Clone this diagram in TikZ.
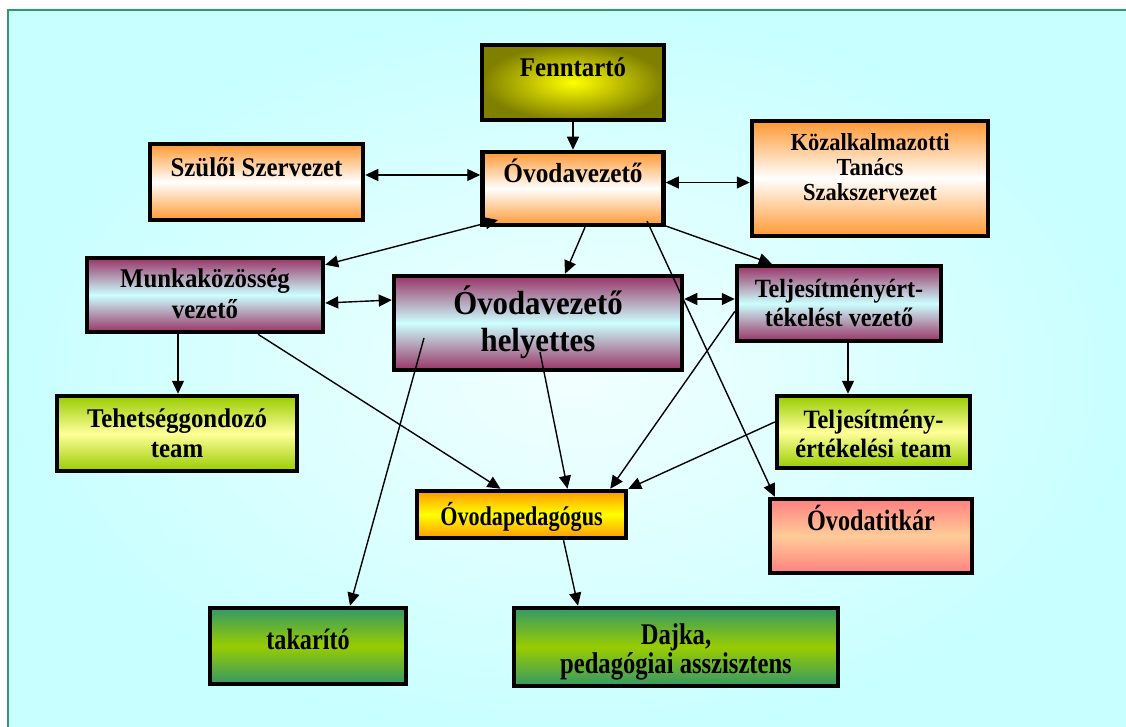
\documentclass[tikz,border=0pt]{standalone}
\usepackage{fontspec}
\setmainfont{Liberation Serif}
\newfontfamily\condA{Liberation Serif}[FakeStretch=0.92]
\newfontfamily\condB{Liberation Serif}[FakeStretch=0.82]
\usetikzlibrary{arrows.meta,calc}
\definecolor{frameG}{HTML}{339966}
\definecolor{bgIn}{HTML}{F2FFFF}
\definecolor{bgOut}{HTML}{C8FFFF}
\definecolor{orngC}{HTML}{FF9933}
\definecolor{maroC}{HTML}{993366}
\definecolor{cyanC}{HTML}{CCFFFF}
\definecolor{limeC}{HTML}{99CC00}
\definecolor{paleY}{HTML}{FFFF99}
\definecolor{ambC}{HTML}{FF9900}
\definecolor{salC}{HTML}{FF8080}
\definecolor{peachC}{HTML}{FFCC99}
\definecolor{grnC}{HTML}{339966}
\definecolor{oliveC}{HTML}{808000}
\newcommand\bxfontA[1]{\condA\fontsize{#1}{#1}\selectfont\bfseries}
\newcommand\bxfontB[1]{\condB\fontsize{#1}{#1}\selectfont\bfseries}
\tikzset{
  bx/.style={draw=black, line width=4.5pt, inner sep=0pt},
  orngbox/.style={bx, top color=orngC, bottom color=orngC, middle color=white},
  marobox/.style={bx, top color=maroC, bottom color=maroC, middle color=cyanC},
  limebox/.style={bx, top color=limeC, bottom color=limeC, middle color=paleY},
  ambbox/.style={bx, top color=ambC, bottom color=ambC, middle color=yellow},
  salbox/.style={bx, top color=salC, bottom color=salC, middle color=peachC},
  grnbox/.style={bx, top color=grnC, bottom color=grnC, middle color=limeC},
  olivebox/.style={bx, inner color=yellow, outer color=oliveC},
  txt/.style={anchor=base, inner sep=0pt, text=black},
  arr/.style={-{Triangle[length=13pt,width=12pt]}, line width=1.4pt},
  darr/.style={{Triangle[length=13pt,width=12pt]}-{Triangle[length=13pt,width=12pt]}, line width=1.4pt}
}
\begin{document}
\begin{tikzpicture}[x=1pt,y=-1pt]
\useasboundingbox (0,0) rectangle (1126,727);
\fill[white] (0,0) rectangle (1126,727);
\path[draw=frameG, line width=2.5pt, inner color=bgIn, outer color=bgOut] (8,10) rectangle (1140,740);

% boxes
\node[olivebox, minimum width=182pt, minimum height=75pt] (fenn) at (573,82.5) {};
\node[orngbox, minimum width=213pt, minimum height=76pt] (szulo) at (256.5,182) {};
\node[orngbox, minimum width=181pt, minimum height=73pt] (ovez) at (573,188.5) {};
\node[orngbox, minimum width=236pt, minimum height=115pt] (kozal) at (870,178.5) {};
\node[marobox, minimum width=236pt, minimum height=74pt] (munka) at (205,295) {};
\node[marobox, minimum width=288pt, minimum height=94pt] (helyt) at (538,323) {};
\node[marobox, minimum width=204pt, minimum height=75pt] (telv) at (839,303.5) {};
\node[limebox, minimum width=240pt, minimum height=75pt] (tehet) at (177,433.5) {};
\node[limebox, minimum width=193pt, minimum height=72pt] (telt) at (873.5,432) {};
\node[ambbox, minimum width=209pt, minimum height=47pt] (opeda) at (521.5,514.5) {};
\node[salbox, minimum width=202pt, minimum height=74pt] (titk) at (871,536) {};
\node[grnbox, minimum width=196pt, minimum height=76pt] (takar) at (308,646) {};
\node[grnbox, minimum width=324pt, minimum height=78pt] (dajka) at (676,647) {};

% inner start points
\coordinate (ovezIn) at (498,220);
\coordinate (ovezTi) at (647,221);
\coordinate (helytL) at (424,338);
\coordinate (helytM) at (540,352);

% connectors
\draw[arr] (fenn.south) -- (fenn.south |- ovez.north);
\path ($(szulo.east)+(0,-7)$) coordinate (a2);
\draw[darr] (a2) -- (a2 -| ovez.west);
\path ($(ovez.east)+(0,-6)$) coordinate (a3);
\draw[darr] (a3) -- (a3 -| kozal.west);
\draw[darr] ($(munka.north east)+(0,9)$) -- (ovezIn);
\draw[arr] ($(ovez.south)+(12,0)$) -- ($(helyt.north)+(27,0)$);
\draw[arr] ($(ovez.south east)+(-2,-2)$) -- ($(telv.north west)+(37,0)$);
\draw[arr] (ovezTi) -- ($(titk.north west)+(7,0)$);
\draw[darr] ($(munka.east)+(0,8)$) -- ($(helyt.west)+(0,-23)$);
\path ($(helyt.east)+(0,-24)$) coordinate (a9);
\draw[darr] (a9) -- (a9 -| telv.west);
\path ($(munka.south)+(-27,0)$) coordinate (a10);
\draw[arr] (a10) -- (a10 |- tehet.north);
\draw[arr] ($(munka.south)+(53,0)$) -- ($(opeda.north)+(-21,0)$);
\draw[arr] (helytL) -- ($(takar.north)+(42,0)$);
\draw[arr] (helytM) -- ($(opeda.north)+(46,0)$);
\draw[arr] ($(telv.west)+(0,8)$) -- ($(opeda.north east)+(-18,0)$);
\path ($(telv.south)+(9,0)$) coordinate (a15);
\draw[arr] (a15) -- (a15 |- telt.north);
\draw[arr] ($(telt.west)+(0,-10)$) -- (opeda.north east);
\draw[arr] ($(opeda.south)+(42,0)$) -- ($(dajka.north)+(-98,0)$);

% texts
\node[txt, font=\bxfontA{27}] (fennT) at (573,77) {Fenntartó};
\node[txt, font=\bxfontA{27}] (szuloT) at (256.5,177) {Szülői Szervezet};
\node[txt, font=\bxfontA{27.5}] (ovezT) at (573,183) {Óvodavezető};
\node[txt, font=\bxfontA{24.5}] (kozalT1) at (870,151) {Közalkalmazotti};
\node[txt, font=\bxfontA{24.5}] (kozalT2) at (870,176) {Tanács};
\node[txt, font=\bxfontA{24.5}] (kozalT3) at (870,201) {Szakszervezet};
\node[txt, font=\bxfontA{27}] (munkaT1) at (205,287) {Munkaközösség};
\node[txt, font=\bxfontA{27}] (munkaT2) at (205,318) {vezető};
\node[txt, font=\bxfontA{33.5}] (helytT1) at (538,314) {Óvodavezető};
\node[txt, font=\bxfontA{33.5}] (helytT2) at (538,351) {helyettes};
\node[txt, font=\bxfontA{26.3}] (telvT1) at (839,297) {Teljesítményért-};
\node[txt, font=\bxfontA{26.3}] (telvT2) at (839,326) {tékelést vezető};
\node[txt, font=\bxfontA{27}] (tehetT1) at (177,427) {Tehetséggondozó};
\node[txt, font=\bxfontA{27}] (tehetT2) at (177,457) {team};
\node[txt, font=\bxfontA{26.5}] (teltT1) at (873.5,428) {Teljesítmény-};
\node[txt, font=\bxfontA{26.5}] (teltT2) at (873.5,457) {értékelési team};
\node[txt, font=\bxfontB{27}] (opedaT) at (521.5,525) {Óvodapedagógus};
\node[txt, font=\bxfontB{29.5}] (titkT) at (871,530) {Óvodatitkár};
\node[txt, font=\bxfontB{29.5}] (takarT) at (308,649) {takarító};
\node[txt, font=\bxfontB{30}] (dajkaT1) at (676,644) {Dajka,};
\node[txt, font=\bxfontB{30}] (dajkaT2) at (676,673) {pedagógiai asszisztens};
\end{tikzpicture}
\end{document}
